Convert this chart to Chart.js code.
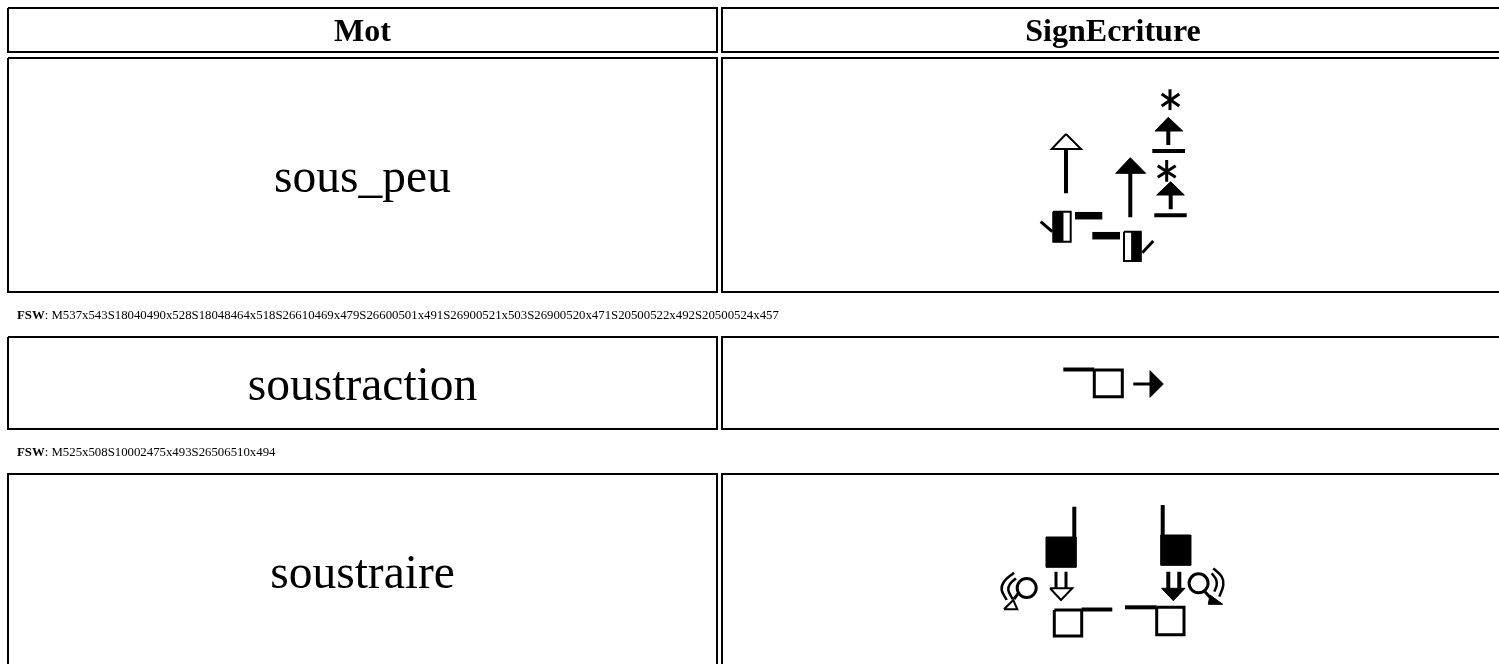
<!DOCTYPE html>
<html lang="fr">
<head>
<meta charset="utf-8">
<title>Mot / SignEcriture</title>
<script src="https://cdn.jsdelivr.net/npm/chart.js@4/dist/chart.umd.min.js"></script>
<style>
html,body{margin:0;padding:0;background:#fff;overflow:hidden}
#c{display:block;filter:blur(0.35px)}
</style>
</head>
<body>
<canvas id="c" width="1499" height="664"></canvas>
<script>
const headers = ['Mot', 'SignEcriture'];
const words = ['sous_peu', 'soustraction', 'soustraire'];
const fswCodes = [
  'M537x543S18040490x528S18048464x518S26610469x479S26600501x491S26900521x503S26900520x471S20500522x492S20500524x457',
  'M525x508S10002475x493S26506510x494'
];
const wordBaselines = [192, 400, 588];
const fswBaselines = [318.5, 455.5];

// cell outlines, in page-axis units
const cellBoxes = [
  [[8,8],[717,8],[717,52],[8,52],[8,8]],
  [[1499,8],[722,8],[722,52],[1499,52]],
  [[8,58],[717,58],[717,292],[8,292],[8,58]],
  [[1499,58],[722,58],[722,292],[1499,292]],
  [[8,337],[717,337],[717,429],[8,429],[8,337]],
  [[1499,337],[722,337],[722,429],[1499,429]],
  [[8,664],[8,474],[717,474],[717,664]],
  [[1499,474],[722,474],[722,664]]
];

// SignWriting glyphs
const glyphFilled = [
  [[1168.3,117.3],[1155,131],[1182.7,131],[1168.3,117.3]],
  [[1170.7,181.7],[1156.7,195],[1184.3,195],[1170.7,181.7]],
  [[1130.3,157.7],[1115.7,173.3],[1145.7,173.3],[1130.3,157.7]],
  [[1053.3,211.7],[1062.7,211.7],[1062.7,241.7],[1053.3,241.7],[1053.3,211.7]],
  [[1131.7,231.7],[1140.7,231.7],[1140.7,261],[1131.7,261],[1131.7,231.7]],
  [[1150,370.7],[1163.3,384],[1150,397.3],[1150,370.7]],
  [[1046,537],[1076,537],[1076,567.3],[1046,567.3],[1046,537]],
  [[1160.7,535],[1190.7,535],[1190.7,565.3],[1160.7,565.3],[1160.7,535]],
  [[1161.7,588.3],[1185,588.3],[1173.3,600.7],[1161.7,588.3]],
  [[1208.3,604.3],[1222.7,604.3],[1210,595],[1208.3,604.3]]
];
const glyphHollow = [
  [[1066,134],[1051.7,149],[1081,149],[1066,134]],
  [[1050,588.3],[1072.3,588.3],[1061,600],[1050,588.3]],
  [[1004,609.3],[1017.3,609.3],[1013.3,600],[1004,609.3]]
];
const glyphThick = [
  [[1075,215.7],[1102.3,215.7]],
  [[1092.3,235.7],[1120,235.7]]
];
const glyphMedium = [
  [[1168.3,131],[1168.3,145]],
  [[1152.3,151],[1185,151]],
  [[1170.7,195],[1170.7,209.3]],
  [[1154.3,215.3],[1186.7,215.3]],
  [[1066,149],[1066,193.3]],
  [[1130.3,173.3],[1130.3,217.3]],
  [[1063.3,369.5],[1094.3,369.5]],
  [[1074.3,506.7],[1074.3,537]],
  [[1162.7,505],[1162.7,535]],
  [[1081.7,609.5],[1112.3,609.5]],
  [[1125,607.3],[1156.7,607.3]],
  [[1168.3,571.7],[1168.3,588.3]],
  [[1179.3,571.7],[1179.3,588.3]]
];
const glyphRegular = [
  [[1170,89.3],[1170,110]],
  [[1161.7,94],[1179.3,106]],
  [[1179.3,94],[1161.7,106]],
  [[1166.7,160],[1166.7,181.7]],
  [[1157.7,165.7],[1175.7,177.3]],
  [[1175.7,165.7],[1157.7,177.3]],
  [[1040.7,221.7],[1052.3,231.7]],
  [[1142.3,252.7],[1153.3,241]],
  [[1094.3,370],[1122.3,370],[1122.3,396.7],[1094.3,396.7],[1094.3,370]],
  [[1133.3,384],[1150,384]],
  [[1054.3,610],[1081.7,610],[1081.7,636],[1054.3,636],[1054.3,610]],
  [[1156.7,607.3],[1184,607.3],[1184,634.7],[1156.7,634.7],[1156.7,607.3]],
  [[1056,571.7],[1056,588.3]],
  [[1066,571.7],[1066,588.3]],
  [[1014,599],[1018.3,593.3]],
  [[1205,591.7],[1211.7,599.3]]
];
const glyphHands = [
  [[1053.3,211.7],[1070.7,211.7],[1070.7,241.7],[1053.3,241.7],[1053.3,211.7]],
  [[1124,231.7],[1140.7,231.7],[1140.7,261],[1124,261],[1124,231.7]]
];
const glyphArcs = [
  [[1014,572.7],[1004,581.7],[1001.7,590],[1006.7,600]],
  [[1016,578.3],[1010,584],[1008.3,590],[1012.7,599.3]],
  [[1213.3,568.3],[1221.7,576.7],[1223.3,585],[1219.3,596.7]],
  [[1211.7,573.3],[1216,579.3],[1216.7,585],[1214.3,591.7]]
];
const glyphCircles = [[1026.7,588],[1198.6,583.3]];

const toXY = pts => pts.map(p => ({x: p[0], y: p[1]}));
const strokeSet = (pts, width, extra) => Object.assign({
  data: toXY(pts), showLine: true, borderColor: '#000', borderWidth: width,
  pointRadius: 0, fill: false, tension: 0, borderCapStyle: 'butt', borderJoinStyle: 'miter'
}, extra || {});

const datasets = [
  ...cellBoxes.map(b => strokeSet(b, 2)),
  ...glyphFilled.map(g => strokeSet(g, 1, {fill: 'shape', backgroundColor: '#000'})),
  ...glyphHollow.map(g => strokeSet(g, 2, {fill: 'shape', backgroundColor: '#fff'})),
  ...glyphThick.map(g => strokeSet(g, 7.5)),
  ...glyphMedium.map(g => strokeSet(g, 4)),
  ...glyphRegular.map(g => strokeSet(g, 3)),
  ...glyphHands.map(g => strokeSet(g, 2)),
  ...glyphArcs.map(g => strokeSet(g, 2.5, {tension: 0.4})),
  {data: toXY(glyphCircles), showLine: false, pointRadius: 9.5, pointHoverRadius: 9.5,
   pointBorderWidth: 3, pointBorderColor: '#000', pointBackgroundColor: 'rgba(255,255,255,0)'}
];

const serif = '"Liberation Serif", "Times New Roman", serif';
const leftCol = 362.5, rightCol = 1113, headerBaseline = 41;

const tableText = {
  id: 'tableText',
  afterDatasetsDraw(chart) {
    const {ctx, scales: {x, y}} = chart;
    ctx.save();
    ctx.fillStyle = '#000';
    ctx.textBaseline = 'alphabetic';
    ctx.textAlign = 'center';
    ctx.font = 'bold 32px ' + serif;
    ctx.fillText(headers[0], x.getPixelForValue(leftCol), y.getPixelForValue(headerBaseline));
    ctx.fillText(headers[1], x.getPixelForValue(rightCol), y.getPixelForValue(headerBaseline));
    ctx.font = '47.5px ' + serif;
    words.forEach((w, i) => ctx.fillText(w, x.getPixelForValue(leftCol), y.getPixelForValue(wordBaselines[i])));
    ctx.textAlign = 'left';
    fswCodes.forEach((code, i) => {
      const px = x.getPixelForValue(17), py = y.getPixelForValue(fswBaselines[i]);
      ctx.font = 'bold 12.8px ' + serif;
      ctx.fillText('FSW', px, py);
      const w = ctx.measureText('FSW').width;
      ctx.font = '12.8px ' + serif;
      ctx.fillText(': ' + code, px + w, py);
    });
    ctx.restore();
  }
};

new Chart(document.getElementById('c'), {
  type: 'scatter',
  data: {datasets},
  plugins: [tableText],
  options: {
    responsive: false,
    animation: false,
    events: [],
    layout: {padding: 0, autoPadding: false},
    plugins: {legend: {display: false}, tooltip: {enabled: false}, title: {display: false}},
    scales: {
      x: {type: 'linear', display: false, min: 0, max: 1499},
      y: {type: 'linear', display: false, min: 0, max: 664, reverse: true}
    }
  }
});
</script>
</body>
</html>
